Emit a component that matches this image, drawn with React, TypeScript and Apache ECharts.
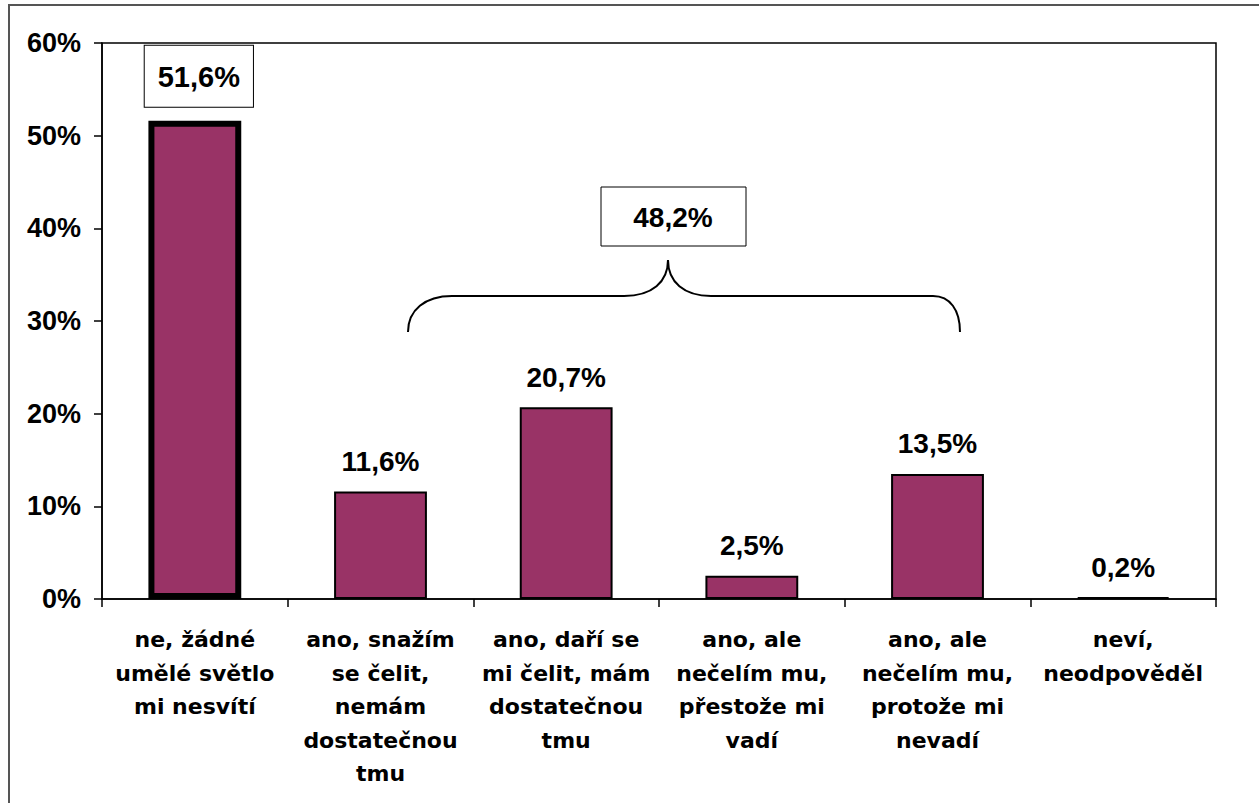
import React, { useEffect, useRef } from "react";
import * as echarts from "echarts";

const categories = [
  "ne, žádné\numělé světlo\nmi nesvítí",
  "ano, snažím\nse čelit,\nnemám\ndostatečnou\ntmu",
  "ano, daří se\nmi čelit, mám\ndostatečnou\ntmu",
  "ano, ale\nnečelím mu,\npřestože mi\nvadí",
  "ano, ale\nnečelím mu,\nprotože mi\nnevadí",
  "neví,\nneodpověděl",
];
const values = [51.6, 11.6, 20.7, 2.5, 13.5, 0.2];
const groupTotalLabel = "48,2%";
const yMin = 0;
const yMax = 60;
const yStep = 10;

const BRACE_D =
  "M0,72 C0,50 17,36 44,36 L216,36 C244,36 260,22 260,0 C260,22 276,36 303,36 L525,36 C542,36 552,50 552,72";

let registered = false;

const fmt = (v: number) => v.toFixed(1).replace(".", ",") + "%";

export default function App() {
  const ref = useRef<HTMLDivElement>(null);
  useEffect(() => {
    if (!registered) {
      echarts.graphic.registerShape("brace", echarts.graphic.extendPath(BRACE_D, {}));
      registered = true;
    }
    const chart = echarts.init(ref.current!, undefined, { renderer: "svg" });
    const FONT = "'Liberation Sans', Arial, sans-serif";
    chart.setOption({
      animation: false,
      backgroundColor: "#fff",
      grid: {
        left: 102,
        right: 43,
        top: 43,
        bottom: 204,
        show: true,
        borderColor: "#000",
        borderWidth: 1.5,
        backgroundColor: "transparent",
      },
      xAxis: {
        type: "category",
        data: categories,
        axisLine: { lineStyle: { color: "#000", width: 1.5 } },
        axisTick: { show: true, length: 8, lineStyle: { color: "#000", width: 1.5 } },
        axisLabel: {
          interval: 0,
          margin: 24,
          color: "#000",
          fontFamily: "'DejaVu Sans', sans-serif",
          fontWeight: "bold",
          fontSize: 22,
          lineHeight: 33.5,
        },
      },
      yAxis: {
        type: "value",
        min: yMin,
        max: yMax,
        interval: yStep,
        splitLine: { show: false },
        axisLine: { show: true, lineStyle: { color: "#000", width: 1.5 } },
        axisTick: { show: true, length: 8, lineStyle: { color: "#000", width: 1.5 } },
        axisLabel: {
          formatter: "{value}%",
          margin: 21,
          color: "#000",
          fontFamily: FONT,
          fontWeight: "bold",
          fontSize: 27,
        },
      },
      series: [
        {
          type: "bar",
          barCategoryGap: "50%",
          itemStyle: { color: "#993366", borderColor: "#000", borderWidth: 2 },
          label: {
            show: true,
            position: "top",
            distance: 16,
            color: "#000",
            fontFamily: FONT,
            fontWeight: "bold",
            fontSize: 28,
            formatter: (p: any) => fmt(p.value),
          },
          data: values.map((v, i) =>
            i === 0
              ? {
                  value: v,
                  itemStyle: { borderWidth: 6 },
                  label: {
                    fontSize: 29,
                    distance: 14,
                    backgroundColor: "#fff",
                    borderColor: "#000",
                    borderWidth: 1,
                    padding: [17, 13, 15, 13],
                    offset: [4, 0],
                  },
                }
              : v
          ),
        },
      ],
      graphic: [
        {
          type: "rect",
          z: -10,
          shape: { x: 9, y: 5, width: 1400, height: 1000 },
          style: { fill: "none", stroke: "#555", lineWidth: 2 },
        },
        {
          type: "brace",
          x: 408,
          y: 260,
          style: { fill: "none", stroke: "#000", lineWidth: 2 },
        },
        {
          type: "rect",
          shape: { x: 601, y: 187, width: 145, height: 59 },
          style: { fill: "#fff", stroke: "#000", lineWidth: 1 },
        },
        {
          type: "text",
          x: 673,
          y: 217,
          style: {
            text: groupTotalLabel,
            fill: "#000",
            fontFamily: FONT,
            fontWeight: "bold",
            fontSize: 28,
            textAlign: "center",
            textVerticalAlign: "middle",
          },
        },
      ],
    });
    return () => chart.dispose();
  }, []);
  return (
    <div
      ref={ref}
      style={{ position: "absolute", left: 0, top: 0, width: 1259, height: 803 }}
    />
  );
}
